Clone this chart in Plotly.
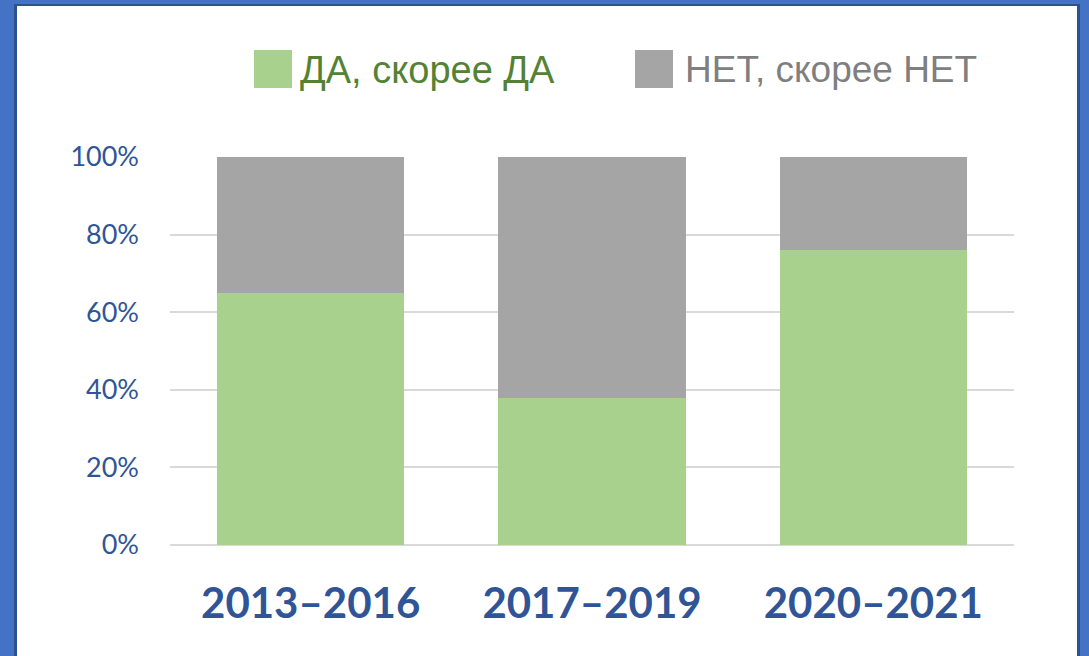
import plotly.graph_objects as go

categories = ["2013–2016", "2017–2019", "2020–2021"]
series_names = ["ДА, скорее ДА", "НЕТ, скорее НЕТ"]
da_values = [65, 38, 76]
net_values = [35, 62, 24]
y_ticks = [0, 20, 40, 60, 80, 100]
y_tick_labels = ["0%", "20%", "40%", "60%", "80%", "100%"]

GREEN = "#A9D18E"
GREY = "#A5A5A5"
GREEN_TEXT = "#548235"
GREY_TEXT = "#7F7F7F"
AXIS_BLUE = "#2F5597"
FRAME_BLUE = "#4472C4"
FRAME_DARK = "#2F528F"

W, H = 1089, 656
L, R, T, B = 170, 75, 157, 111
PW, PH = W - L - R, H - T - B


def px(x):
    return (x - L) / PW


def py(y):
    return (H - B - y) / PH


fig = go.Figure()
fig.add_trace(go.Bar(x=categories, y=da_values, name=series_names[0],
                     marker=dict(color=GREEN, line=dict(width=0)), showlegend=False))
fig.add_trace(go.Bar(x=categories, y=net_values, name=series_names[1],
                     marker=dict(color=GREY, line=dict(width=0)), showlegend=False))

shapes = []
# frame (left, top, right) with darker inner edge
for (x0, y0, x1, y1, c) in [
    (0, 0, 14, H, FRAME_BLUE), (14, 0, 17, H, FRAME_DARK),
    (0, 0, W, 4, FRAME_BLUE), (14, 4, 1080, 6, FRAME_DARK),
    (1080, 0, W, H, FRAME_BLUE), (1077, 4, 1080, H, FRAME_DARK),
]:
    shapes.append(dict(type="rect", xref="paper", yref="paper",
                       x0=px(x0), x1=px(x1), y0=py(y1), y1=py(y0),
                       fillcolor=c, line=dict(width=0), layer="above"))
# legend squares
for (x0, c) in [(254, GREEN), (635, GREY)]:
    shapes.append(dict(type="rect", xref="paper", yref="paper",
                       x0=px(x0), x1=px(x0 + 38), y0=py(88), y1=py(50),
                       fillcolor=c, line=dict(width=0)))

legend_font = "Liberation Sans Narrow, Liberation Sans, Arial, sans-serif"
annotations = [
    dict(text=series_names[0], xref="paper", yref="paper", x=px(298), y=py(70),
         xanchor="left", yanchor="middle", showarrow=False,
         font=dict(family=legend_font, size=38, color=GREEN_TEXT)),
    dict(text=series_names[1], xref="paper", yref="paper", x=px(683), y=py(70),
         xanchor="left", yanchor="middle", showarrow=False,
         font=dict(family=legend_font, size=37, color=GREY_TEXT)),
]

fig.update_layout(
    width=W, height=H,
    barmode="stack", bargap=0.335,
    paper_bgcolor="white", plot_bgcolor="white",
    margin=dict(l=L, r=R, t=T, b=B, pad=0),
    shapes=shapes, annotations=annotations,
    showlegend=False,
)
fig.update_yaxes(range=[0, 100], tickvals=y_ticks, ticktext=y_tick_labels,
                 showgrid=True, gridcolor="#D9D9D9", gridwidth=2,
                 zeroline=True, zerolinecolor="#D9D9D9", zerolinewidth=2,
                 showline=False, ticks="", ticklabelstandoff=30,
                 tickfont=dict(family="Lato", size=27, color=AXIS_BLUE))
fig.update_xaxes(showgrid=False, showline=False, ticks="", ticklabelstandoff=30,
                 tickfont=dict(family="Lato", size=42, color=AXIS_BLUE, weight="bold"))

fig.write_html("out.html", config={"displayModeBar": False},
               post_script="document.body.style.margin='0';")
